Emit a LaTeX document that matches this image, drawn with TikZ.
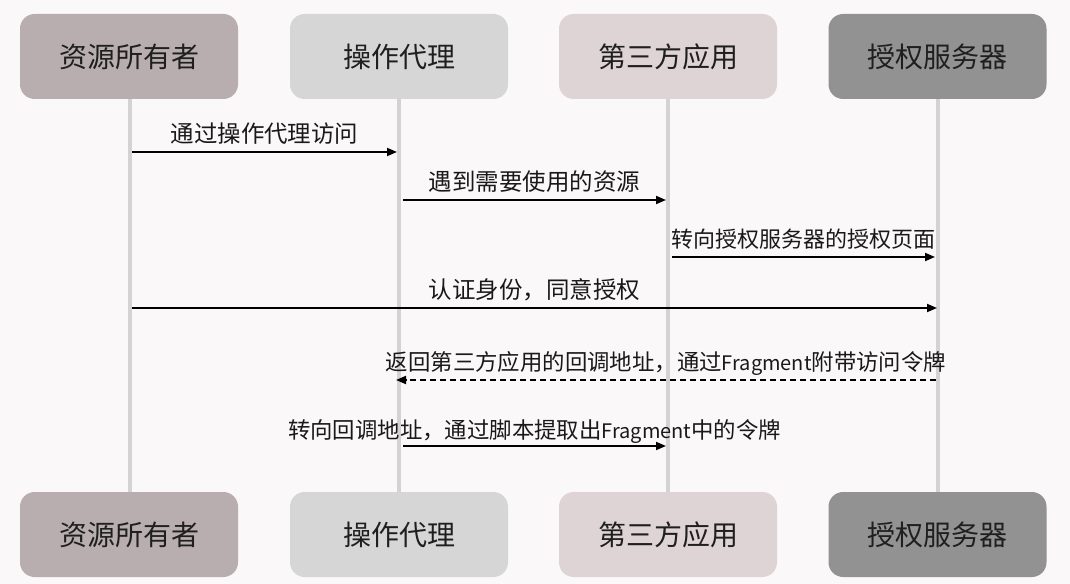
\documentclass[tikz,border=0pt]{standalone}
\usepackage{fontspec}
\setmainfont{Noto Sans CJK SC}
\usetikzlibrary{arrows.meta}
\definecolor{bgc}{HTML}{FBF8F9}
\definecolor{cA}{HTML}{B9AEAF}
\definecolor{cB}{HTML}{D6D6D6}
\definecolor{cC}{HTML}{DFD4D5}
\definecolor{cD}{HTML}{929292}
\definecolor{lifec}{HTML}{D3D3D3}
\newcommand{\fragword}{{\fontsize{15pt}{18pt}\selectfont Fragment}}
\tikzset{
  actor/.style={rounded corners=11pt, minimum width=163.5pt, minimum height=63.75pt, inner sep=0pt, font=\fontsize{21pt}{24pt}\selectfont, text=black!88},
  life/.style={draw=lifec, line width=2.5pt},
  msg/.style={line width=1.4pt, -{Triangle[length=7.5pt,width=6pt]}},
  dmsg/.style={msg, dash pattern=on 4.5pt off 3pt},
  lbl/.style={anchor=base, inner sep=0pt, yshift=7pt, font=\fontsize{17.6pt}{20pt}\selectfont, text=black!90},
  lbls/.style={lbl, font=\fontsize{16.8pt}{20pt}\selectfont}
}
\begin{document}
\begin{tikzpicture}[x=0.75pt,y=-0.75pt]
\fill[bgc] (0,0) rectangle (1070,584);
\useasboundingbox (0,0) rectangle (1070,584);
% lifelines
\coordinate (l1t) at (130,99); \coordinate (l1b) at (130,492);
\coordinate (l2t) at (399,99); \coordinate (l2b) at (399,492);
\coordinate (l3t) at (668,99); \coordinate (l3b) at (668,492);
\coordinate (l4t) at (938,99); \coordinate (l4b) at (938,492);
\draw[life] (l1t) -- (l1b);
\draw[life] (l2t) -- (l2b);
\draw[life] (l3t) -- (l3b);
\draw[life] (l4t) -- (l4b);
% top actors
\node[actor, fill=cA] (a1) at (129,56.5) {资源所有者};
\node[actor, fill=cB] (a2) at (399,56.5) {操作代理};
\node[actor, fill=cC] (a3) at (668,56.5) {第三方应用};
\node[actor, fill=cD] (a4) at (937.5,56.5) {授权服务器};
% bottom actors
\node[actor, fill=cA] (b1) at (129,534.5) {资源所有者};
\node[actor, fill=cB] (b2) at (399,534.5) {操作代理};
\node[actor, fill=cC] (b3) at (668,534.5) {第三方应用};
\node[actor, fill=cD] (b4) at (937.5,534.5) {授权服务器};
% message endpoints
\coordinate (m1s) at (132,152); \coordinate (m1e) at (397,152);
\coordinate (m2s) at (403,200); \coordinate (m2e) at (666,200);
\coordinate (m3s) at (672,257); \coordinate (m3e) at (935,257);
\coordinate (m4s) at (132,308); \coordinate (m4e) at (937,308);
\coordinate (m5s) at (936,380); \coordinate (m5e) at (396,380);
\coordinate (m6s) at (403,446); \coordinate (m6e) at (666,446);
\draw[msg] (m1s) -- node[lbl] {通过操作代理访问} (m1e);
\draw[msg] (m2s) -- node[lbl] {遇到需要使用的资源} (m2e);
\draw[msg] (m3s) -- node[lbl, font=\fontsize{16.5pt}{20pt}\selectfont] {转向授权服务器的授权页面} (m3e);
\draw[msg] (m4s) -- node[lbl] {认证身份，同意授权} (m4e);
\draw[dmsg] (m5s) -- node[lbls] {返回第三方应用的回调地址，通过\fragword 附带访问令牌} (m5e);
\draw[msg] (m6s) -- node[lbls, yshift=-1pt] {转向回调地址，通过脚本提取出\fragword 中的令牌} (m6e);
\end{tikzpicture}
\end{document}
